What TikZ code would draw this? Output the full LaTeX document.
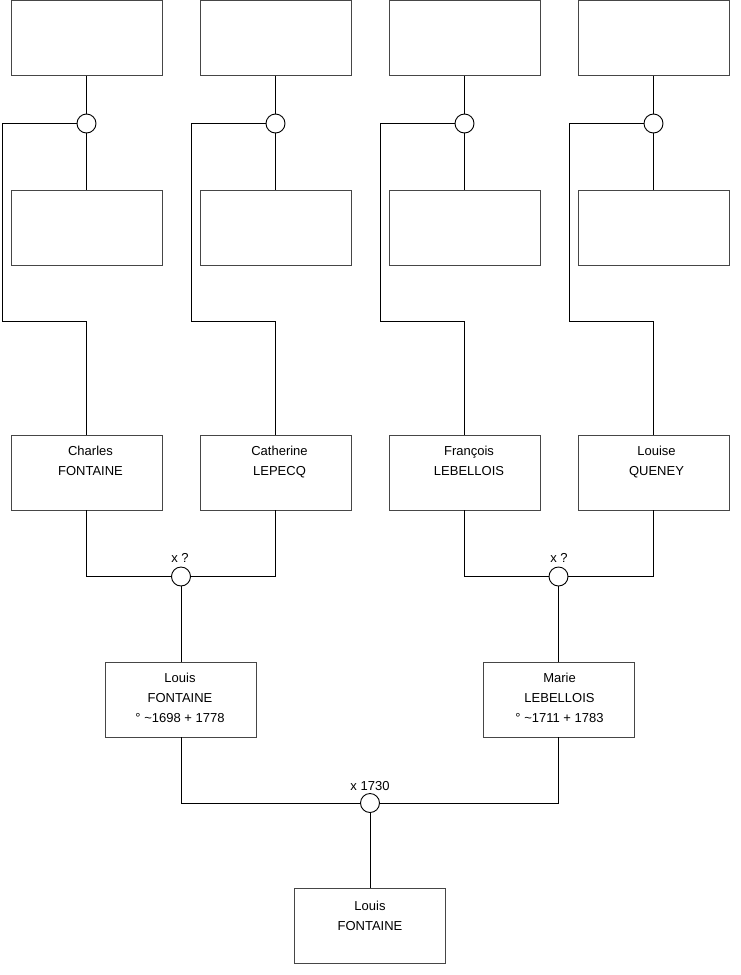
\documentclass[tikz,border=0pt]{standalone}
\usepackage{fontspec}
\setmainfont{Liberation Sans}
\begin{document}
\begin{tikzpicture}[x=1pt,y=-1pt,
  person/.style={draw={rgb,255:red,70;green,70;blue,70},line width=1pt,fill=white,minimum width=151pt,minimum height=75pt,inner sep=0pt,outer sep=0pt},
  union/.style={draw=black,line width=0.9pt,circle,minimum size=19pt,inner sep=0pt,outer sep=0pt,fill=white},
  link/.style={draw=black,line width=0.9pt},
  txt/.style={font=\fontsize{13}{20}\selectfont,align=center,inner sep=0pt,anchor=north},
  lab/.style={font=\fontsize{13}{15}\selectfont,inner sep=0pt,anchor=base}]
\useasboundingbox (0,0) rectangle (740,975);
% top row
\node[person] (t1) at (86.5,38) {};
\node[person] (t2) at (275.5,38) {};
\node[person] (t3) at (464.5,38) {};
\node[person] (t4) at (653.5,38) {};
% second row
\node[person] (s1) at (86.5,227.5) {};
\node[person] (s2) at (275.5,227.5) {};
\node[person] (s3) at (464.5,227.5) {};
\node[person] (s4) at (653.5,227.5) {};
% third row
\node[person] (p1) at (86.5,472.5) {};
\node[person] (p2) at (275.5,472.5) {};
\node[person] (p3) at (464.5,472.5) {};
\node[person] (p4) at (653.5,472.5) {};
% fourth row
\node[person] (g1) at (181,699.5) {};
\node[person] (g2) at (558.5,699.5) {};
% bottom
\node[person] (f) at (370,925.5) {};
% unions
\node[union] (u1) at (86.5,123.5) {};
\node[union] (u2) at (275.5,123.5) {};
\node[union] (u3) at (464.5,123.5) {};
\node[union] (u4) at (653.5,123.5) {};
\node[union] (m1) at (181,576.5) {};
\node[union] (m2) at (558.5,576.5) {};
\node[union] (m3) at (370,803) {};
% corner coordinates
\coordinate (k1) at (2,321);
\coordinate (k2) at (191,321);
\coordinate (k3) at (380,321);
\coordinate (k4) at (569,321);
% connectors
\foreach \i in {1,2,3,4}{
  \draw[link] (t\i.south) -- (u\i.north);
  \draw[link] (u\i.south) -- (s\i.north);
  \draw[link] (u\i.west) -| (k\i) -| (p\i.north);
}
\draw[link] (p1.south) |- (m1.west);
\draw[link] (p2.south) |- (m1.east);
\draw[link] (p3.south) |- (m2.west);
\draw[link] (p4.south) |- (m2.east);
\draw[link] (m1.south) -- (g1.north);
\draw[link] (m2.south) -- (g2.north);
\draw[link] (g1.south) |- (m3.west);
\draw[link] (g2.south) |- (m3.east);
\draw[link] (m3.south) -- (f.north);
% texts
\node[txt] (n1) at (90.5,445.5) {Charles\\FONTAINE};
\node[txt] (n2) at (279.5,445.5) {Catherine\\LEPECQ};
\node[txt] (n3) at (469,445.5) {François\\LEBELLOIS};
\node[txt] (n4) at (656.5,445.5) {Louise\\QUENEY};
\node[txt] (n5) at (180,672.5) {Louis\\FONTAINE\\° \textasciitilde1698 + 1778};
\node[txt] (n6) at (559.5,672.5) {Marie\\LEBELLOIS\\° \textasciitilde1711 + 1783};
\node[txt] (n7) at (370,900.5) {Louis\\FONTAINE};
\node[lab] (l1) at (180,562.5) {x ?};
\node[lab] (l2) at (559,562.5) {x ?};
\node[lab] (l3) at (370,790) {x 1730};
\end{tikzpicture}
\end{document}
